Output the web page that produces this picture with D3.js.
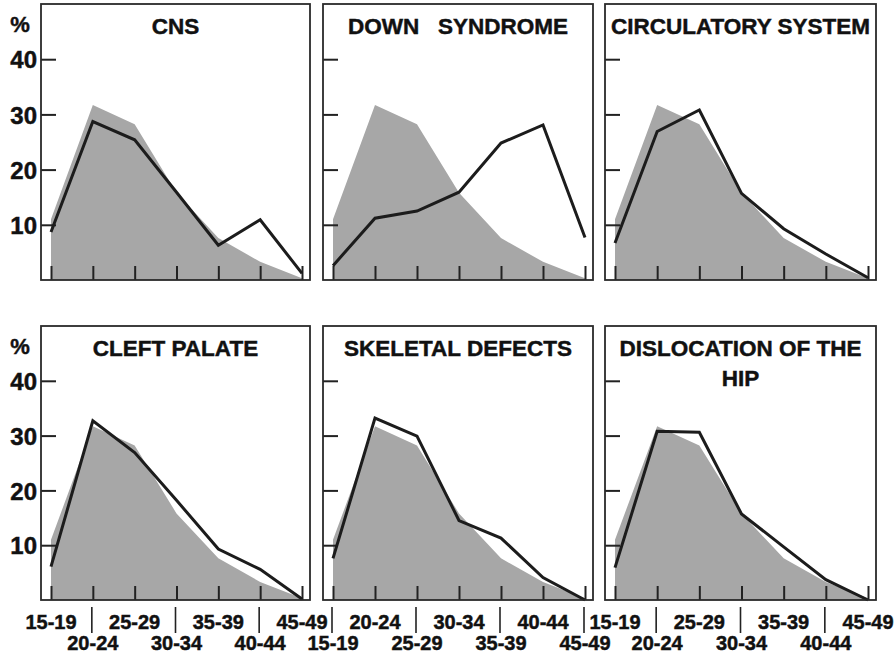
<!DOCTYPE html>
<html>
<head>
<meta charset="utf-8">
<script src="https://cdn.jsdelivr.net/npm/d3@7"></script>
<style>
  html, body { margin: 0; padding: 0; background: #fff; }
  svg { display: block; }
  text { font-family: "Liberation Sans", Arial, Helvetica, sans-serif; font-weight: bold; fill: #111; stroke: #111; stroke-width: 0.45px; }
</style>
</head>
<body>
<div id="chart"></div>
<script>
// ---- data ----
const ageGroups = ["15-19", "20-24", "25-29", "30-34", "35-39", "40-44", "45-49"];
const allBirths = [11, 31.7, 28.2, 15.8, 7.6, 3.3, 0.3];   // shaded reference distribution (%)
const cns          = [8.7, 28.7, 25.4, 15.9, 6.3, 10.9, 1.2];
const downSyndrome = [2.6, 11.2, 12.5, 15.9, 24.8, 28.1, 7.7];
const circulatory  = [6.7, 26.9, 30.8, 15.7, 9.3, 4.7, 0.4];
const cleftPalate  = [6.1, 32.7, 26.9, 18.2, 9.3, 5.6, 0.2];
const skeletal     = [7.6, 33.2, 29.9, 14.5, 11.3, 4.1, 0];
const hip          = [5.9, 30.8, 30.6, 15.7, 9.7, 3.7, 0];
const panelTitles = [["CNS"], ["DOWN   SYNDROME"], ["CIRCULATORY SYSTEM"],
                     ["CLEFT PALATE"], ["SKELETAL DEFECTS"], ["DISLOCATION OF THE", "HIP"]];
const panelSeries = [cns, downSyndrome, circulatory, cleftPalate, skeletal, hip];
const yTickValues = [10, 20, 30, 40];
const yDomain = [0, 50];
const yUnit = "%";

// ---- layout ----
const W = 896, H = 659;
const colLeft = [41, 323, 605], colRight = [310, 593, 876];
const rowTop = [4, 326], rowBottom = [280, 600];

const svg = d3.select("#chart").append("svg").attr("width", W).attr("height", H);

panelSeries.forEach((series, i) => {
  const col = i % 3, row = Math.floor(i / 3);
  const L = colLeft[col], R = colRight[col], T = rowTop[row], B = rowBottom[row];
  const x = d3.scalePoint().domain(ageGroups).range([L + 10, R - 8]);
  const y = d3.scaleLinear().domain(yDomain).range([B, T]);
  const g = svg.append("g");

  // shaded distribution of all births
  const area = d3.area().x((d, j) => x(ageGroups[j])).y0(B).y1(d => y(d));
  g.append("path").datum(allBirths).attr("d", area).attr("fill", "#a7a7a7");

  // bottom tick marks
  const xAxis = d3.axisBottom(x).tickSize(-14).tickFormat("");
  const gx = g.append("g").attr("transform", `translate(0,${B})`).call(xAxis);
  gx.select(".domain").remove();
  gx.selectAll(".tick line").attr("stroke", "#222").attr("stroke-width", 2);

  // y ticks (inside), labels only in first column
  const yAxis = d3.axisLeft(y).tickValues(yTickValues).tickSize(-15).tickPadding(4)
    .tickFormat(col === 0 ? d3.format("d") : "");
  const gy = g.append("g").attr("transform", `translate(${L},0)`).call(yAxis);
  gy.select(".domain").remove();
  gy.selectAll(".tick line").attr("stroke", "#222").attr("stroke-width", 2);
  gy.selectAll(".tick text").attr("font-size", 24).attr("font-family", "Liberation Sans, Arial, sans-serif")
    .attr("font-weight", "bold").attr("fill", "#111").attr("dy", "0.36em");

  if (col === 0) {
    g.append("text").attr("x", 20).attr("y", T + 28).attr("text-anchor", "middle")
      .attr("font-size", 22).text(yUnit);
  }

  // series line
  const line = d3.line().x((d, j) => x(ageGroups[j])).y(d => y(d));
  g.append("path").datum(series).attr("d", line).attr("fill", "none")
    .attr("stroke", "#1c1c1c").attr("stroke-width", 3).attr("stroke-linejoin", "miter");

  // frame
  g.append("rect").attr("x", L).attr("y", T).attr("width", R - L).attr("height", B - T)
    .attr("fill", "none").attr("stroke", "#2a2a2a").attr("stroke-width", 1.8);

  // title
  panelTitles[i].forEach((t, k) => {
    g.append("text").attr("x", (L + R) / 2).attr("y", T + 30 + k * 30)
      .attr("text-anchor", "middle").attr("font-size", 22.5).style("white-space", "pre").text(t);
  });

  // x labels in two staggered rows (bottom row of panels only)
  if (row === 1) {
    const firstOnTop = (col !== 1);
    ageGroups.forEach((a, j) => {
      const onTop = ((j % 2 === 0) === firstOnTop);
      g.append("text").attr("x", x(a)).attr("y", onTop ? 629 : 650)
        .attr("text-anchor", "middle").attr("font-size", 20).text(a);
      if (!onTop) {
        g.append("line").attr("x1", x(a) - 1).attr("x2", x(a) - 1).attr("y1", 607).attr("y2", 633)
          .attr("stroke", "#222").attr("stroke-width", 1.6);
      }
    });
  }
});
</script>
</body>
</html>
